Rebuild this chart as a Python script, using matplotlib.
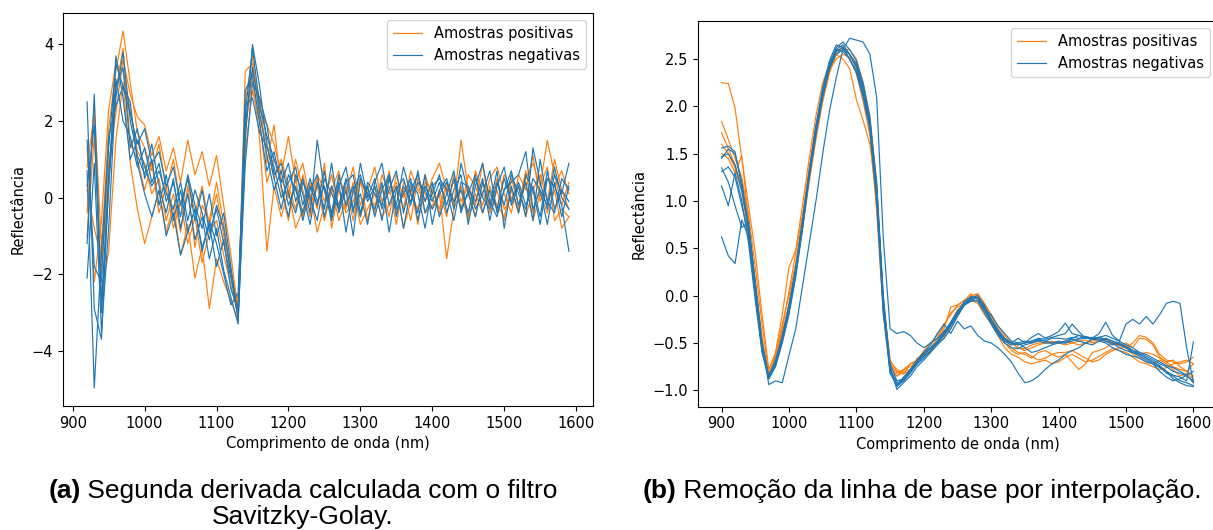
import numpy as np
import matplotlib.pyplot as plt

# wavelength grids (nm)
wl_a = np.arange(920, 1600, 10)   # 2nd derivative panel, 68 points
wl_b = np.arange(900, 1610, 10)   # baseline-removed panel, 71 points

# (a) second derivative, positive samples
deriv_pos = [
    [-0.4, 2.4, -1.3, 1.8, 3.3, 4.35, 3.0, 1.7, 1.3, 0.7,
     1.4, 0.2, 1.0, -0.2, 0.5, -0.4, 0.3, -0.7, 0.1, -1.0,
     -1.9, -2.9, 2.5, 3.7, 2.1, 1.4, 0.5, 1.0, 0.3, -0.3,
     0.6, -0.2, 0.3, -0.6, 0.2, 0.7, -0.3, 0.4, -0.5, 0.2,
     0.8, -0.1, 0.3, -0.7, 0.4, 0.1, -0.3, 0.6, 0.0, -0.4,
     0.3, -0.2, 1.5, 0.2, -0.5, 0.4, 0.1, -0.3, 0.6, 0.2,
     -0.4, 0.5, 0.9, 0.3, 1.5, 0.6, -0.2, 0.4],
    [0.8, 2.2, -2.5, -1.4, 1.5, 3.0, 0.9, -0.3, -1.2, -0.5,
     0.2, -0.9, -0.2, -1.5, -0.7, -2.1, -1.3, -2.9, -1.6, -2.2,
     -2.7, -3.2, 1.8, 3.1, 1.5, -1.4, 0.3, -0.5, 0.2, -0.8,
     -0.3, 0.1, -0.9, -0.2, 0.3, -0.6, -0.1, 0.2, -0.7, -0.3,
     0.1, -0.5, -0.2, 0.3, -0.8, -0.1, 0.4, -0.4, -0.2, 0.1,
     -1.6, -0.3, 0.2, -0.6, 0.1, -0.4, 0.3, -0.2, -0.5, 0.2,
     -0.3, 0.4, -0.6, 0.1, -0.4, 0.2, -0.8, -0.5],
    [-1.0, 1.6, -2.0, 0.9, 2.2, 3.6, 2.7, 2.1, 1.9, 1.1,
     1.6, 0.7, 1.3, 0.4, 1.5, 0.6, 1.2, 0.3, 1.1, -0.2,
     -1.5, -3.0, 3.3, 3.5, 2.3, 1.9, 1.4, 0.6, 1.6, 0.4,
     0.9, -0.1, 0.6, 0.2, -0.4, 0.5, 0.1, 0.8, -0.2, 0.3,
     -0.4, 0.6, 0.1, 0.4, -0.3, 0.7, 0.2, -0.1, 0.5, 0.9,
     0.2, 0.4, -0.3, 0.6, 0.3, -0.2, 0.5, 0.8, 0.1, -0.4,
     0.6, 0.2, 1.1, -0.1, 0.5, 0.3, 0.7, 0.1],
    [0.2, -0.8, -1.6, 0.4, 2.8, 3.9, 1.4, 1.0, 0.2, 0.9,
     -0.4, 0.3, -0.8, -0.1, -1.2, -0.5, -1.7, -0.9, -0.6, -1.5,
     -2.3, -3.1, 2.0, 3.3, 2.6, 0.9, 1.9, 0.2, -0.6, 0.5,
     -0.5, 0.4, -0.3, 0.9, -0.8, 0.2, -0.4, -0.1, 0.5, -0.6,
     0.3, -0.2, 0.7, -0.4, 0.2, -0.6, 0.5, 0.1, -0.3, 0.2,
     -0.5, 0.6, -0.1, 0.3, -0.2, 0.9, -0.4, 0.2, -0.6, 0.5,
     -0.2, 0.7, -0.4, 0.3, 0.8, -0.6, -0.3, -0.5],
    [1.3, -2.2, -0.6, 2.3, 3.5, 3.3, 2.3, 1.2, 0.9, 0.1,
     0.5, -0.6, 0.1, -0.9, 0.3, -1.3, -0.2, -0.6, 0.4, -0.7,
     -2.0, -2.7, 1.2, 2.8, 2.0, 0.4, 1.0, 0.5, 0.0, 1.0,
     0.2, -0.5, 0.5, -0.1, 0.6, -0.3, 0.3, -0.6, 0.4, 0.1,
     -0.2, 0.3, -0.5, 0.6, 0.0, 0.3, -0.7, 0.4, 0.2, -0.3,
     0.4, -0.1, 0.3, -0.5, 0.7, 0.1, -0.2, 0.5, -0.3, 0.0,
     0.3, -0.5, 0.2, 0.6, -0.1, 1.0, 0.2, -0.3],
]

# (a) second derivative, negative samples
deriv_neg = [
    [0.7, -4.97, -1.4, 1.3, 3.5, 2.9, 2.2, 1.4, 1.8, 0.9,
     1.2, 0.3, 0.8, -0.2, 0.5, -0.6, 0.2, -0.9, -0.3, -1.2,
     -2.1, -3.1, 2.2, 3.9, 2.4, 1.6, 1.0, 0.4, 0.9, -0.1,
     0.5, -0.4, 1.5, 0.2, -0.6, 0.3, 0.8, -0.3, 0.1, -0.7,
     0.4, 0.9, -0.2, 0.3, -0.8, 0.2, 0.6, -0.1, 0.4, -0.5,
     0.1, 0.7, -0.4, 0.2, -0.1, 0.5, -0.6, 0.3, 0.8, -0.2,
     0.3, -0.5, 1.3, 0.4, -0.3, 0.6, 0.1, 0.9],
    [2.5, -2.9, -3.7, 0.4, 2.6, 3.8, 2.0, 1.1, 0.6, 1.4,
     0.3, -0.4, 0.5, -0.8, 0.1, -1.1, -0.5, -1.6, -0.8, -1.9,
     -2.6, -3.3, 1.5, 4.0, 2.9, 1.4, 0.5, -0.3, 0.6, 0.2,
     -0.4, 0.3, -0.2, 0.7, -0.5, 0.4, -0.9, 0.2, 0.6, -0.1,
     0.3, -0.6, 0.5, -0.2, 0.8, 0.1, -0.4, 0.6, -0.7, 0.2,
     0.5, -0.3, 0.9, 0.1, -0.5, 0.4, -0.2, 0.7, -0.8, 0.3,
     -0.4, 0.6, 0.2, -0.7, 0.5, 0.3, -0.2, -1.4],
    [-2.1, 0.9, -3.5, -0.8, 2.9, 3.4, 1.3, 1.8, 0.5, 1.0,
     -0.2, 0.6, -0.6, 0.2, -0.9, -0.3, -1.3, -0.7, -1.8, -1.1,
     -2.4, -2.9, 2.8, 3.2, 1.9, 0.7, 1.2, 0.3, -0.5, 0.6,
     0.1, -0.7, 0.4, -0.3, 0.9, -0.4, 0.2, -1.0, 0.5, 0.1,
     -0.3, 0.4, -0.9, 0.2, 0.5, -0.2, 0.7, -0.4, 0.1, 0.6,
     -0.4, 0.2, 0.6, -0.7, 0.3, 0.9, -0.1, -0.5, 0.2, 0.7,
     -0.2, 0.4, -0.6, 1.0, -0.1, -0.4, 0.5, 0.2],
    [-1.2, 2.7, -2.8, 0.6, 3.1, 2.0, 1.6, 0.8, 1.3, 0.4,
     0.9, -0.1, 0.4, -0.5, 0.6, -0.2, -0.8, 0.1, -1.0, -0.4,
     -1.8, -3.2, 0.9, 3.0, 2.6, 1.9, 0.6, 0.9, 0.1, -0.4,
     0.4, 0.0, -0.6, 0.5, 0.1, -0.3, 0.4, 0.6, -0.4, 0.3,
     -0.5, 0.2, 0.6, -0.3, 0.1, 0.5, -0.6, 0.3, -0.1, 0.4,
     -0.2, 0.5, -0.3, 0.1, 0.6, -0.4, 0.2, -0.3, 0.5, -0.1,
     0.4, -0.2, 0.3, -0.5, 0.7, -0.3, 0.2, -0.1],
    [1.5, -1.8, -2.2, 1.6, 2.4, 2.9, 2.5, 0.9, 0.1, -0.5,
     0.2, -1.0, -0.4, -1.5, -0.9, -0.3, -1.4, -0.6, -1.2, -2.0,
     -2.8, -2.5, 1.9, 3.4, 2.2, 1.1, 0.2, 0.7, -0.2, 0.3,
     -0.6, 0.2, 0.6, -0.5, 0.3, -0.2, 0.5, -0.4, 0.9, 0.0,
     0.5, -0.3, 0.2, 0.7, -0.4, 0.4, 0.1, -0.8, 0.3, 0.5,
     0.2, -0.6, 0.4, 0.3, -0.3, 0.1, 0.7, -0.4, 0.2, 0.4,
     0.6, 1.2, -0.3, 0.2, -0.7, 0.4, -0.5, 0.3],
    [0.3, 1.9, -3.0, 0.2, 3.7, 2.6, 1.0, 1.5, 0.8, 0.3,
     0.7, 0.1, -0.3, 0.4, -0.6, 0.2, -0.4, -1.1, -0.2, -0.8,
     -2.0, -3.0, 2.4, 2.6, 1.7, 1.3, 0.8, 0.0, 0.4, 0.8,
     -0.2, 0.5, -0.1, 0.3, -0.4, 0.6, -0.2, 0.3, -0.5, 0.4,
     0.1, -0.2, 0.6, -0.5, 0.3, -0.1, 0.4, 0.2, -0.3, 0.1,
     0.4, -0.1, 0.2, -0.4, 0.5, 0.0, -0.3, 0.4, -0.2, 0.6,
     0.1, -0.3, 0.5, 0.2, -0.2, 0.8, 0.0, -0.3],
]

# (b) baseline removed, positive samples
base_pos = [
    [2.25, 2.24, 1.98, 1.45, 0.95, 0.45, -0.2, -0.78, -0.6, -0.2,
     0.3, 0.48, 0.95, 1.45, 1.9, 2.25, 2.45, 2.58, 2.62, 2.5,
     2.35, 2.05, 1.7, 0.9, -0.2, -0.72, -0.82, -0.78, -0.75, -0.7,
     -0.62, -0.6, -0.48, -0.35, -0.12, -0.1, -0.05, -0.02, 0.0, -0.12,
     -0.25, -0.38, -0.45, -0.55, -0.6, -0.62, -0.66, -0.6, -0.58, -0.62,
     -0.65, -0.62, -0.7, -0.78, -0.72, -0.6, -0.58, -0.55, -0.5, -0.52,
     -0.5, -0.55, -0.45, -0.46, -0.52, -0.65, -0.7, -0.68, -0.75, -0.8, -0.72],
    [1.84, 1.65, 1.45, 1.25, 0.85, 0.3, -0.3, -0.82, -0.65, -0.35,
     0.05, 0.45, 0.85, 1.35, 1.8, 2.15, 2.4, 2.55, 2.5, 2.4,
     2.07, 1.85, 1.6, 1.05, -0.05, -0.68, -0.8, -0.83, -0.72, -0.7,
     -0.6, -0.55, -0.5, -0.4, -0.28, -0.15, -0.1, -0.05, 0.02, -0.08,
     -0.2, -0.32, -0.42, -0.5, -0.55, -0.58, -0.55, -0.52, -0.5, -0.5,
     -0.5, -0.52, -0.5, -0.48, -0.47, -0.5, -0.48, -0.46, -0.5, -0.53,
     -0.52, -0.58, -0.62, -0.6, -0.62, -0.66, -0.7, -0.75, -0.78, -0.8, -0.85],
    [1.72, 1.55, 1.38, 1.15, 0.7, 0.15, -0.45, -0.85, -0.62, -0.3,
     0.0, 0.35, 0.8, 1.3, 1.75, 2.1, 2.38, 2.5, 2.55, 2.52,
     2.45, 2.2, 1.85, 1.15, -0.15, -0.75, -0.85, -0.8, -0.78, -0.68,
     -0.58, -0.5, -0.42, -0.3, -0.2, -0.1, -0.05, 0.02, -0.05, -0.15,
     -0.28, -0.4, -0.5, -0.58, -0.62, -0.6, -0.64, -0.68, -0.66, -0.62,
     -0.6, -0.6, -0.58, -0.62, -0.66, -0.7, -0.68, -0.62, -0.58, -0.55,
     -0.55, -0.62, -0.66, -0.7, -0.72, -0.68, -0.72, -0.78, -0.85, -0.82, -0.88],
    [1.6, 1.5, 1.35, 1.1, 0.65, 0.05, -0.5, -0.83, -0.66, -0.4,
     -0.08, 0.3, 0.75, 1.25, 1.7, 2.1, 2.4, 2.55, 2.65, 2.55,
     2.4, 2.15, 1.8, 1.1, -0.1, -0.7, -0.78, -0.82, -0.8, -0.66,
     -0.62, -0.55, -0.45, -0.32, -0.18, -0.12, -0.08, 0.0, 0.02, -0.1,
     -0.22, -0.35, -0.45, -0.5, -0.55, -0.56, -0.52, -0.5, -0.5, -0.48,
     -0.5, -0.48, -0.5, -0.52, -0.5, -0.48, -0.46, -0.48, -0.5, -0.52,
     -0.55, -0.5, -0.42, -0.44, -0.5, -0.62, -0.68, -0.7, -0.72, -0.7, -0.65],
    [1.5, 1.45, 1.3, 1.48, 0.8, 0.1, -0.45, -0.86, -0.7, -0.42,
     -0.1, 0.3, 0.7, 1.2, 1.65, 2.05, 2.35, 2.55, 2.6, 2.6,
     2.5, 2.25, 1.9, 1.2, -0.1, -0.75, -0.85, -0.78, -0.72, -0.68,
     -0.62, -0.6, -0.5, -0.45, -0.35, -0.2, -0.1, -0.05, -0.08, -0.2,
     -0.3, -0.42, -0.55, -0.62, -0.65, -0.7, -0.72, -0.7, -0.68, -0.72,
     -0.7, -0.65, -0.62, -0.66, -0.7, -0.68, -0.64, -0.6, -0.56, -0.58,
     -0.6, -0.65, -0.7, -0.72, -0.75, -0.78, -0.76, -0.72, -0.7, -0.68, -0.72],
]

# (b) baseline removed, negative samples
base_neg = [
    [1.45, 1.55, 1.5, 1.2, 0.75, 0.15, -0.5, -0.94, -0.9, -0.92,
     -0.63, -0.35, 0.1, 0.55, 1.0, 1.5, 1.95, 2.3, 2.6, 2.72,
     2.7, 2.68, 2.55, 2.1, 0.6, -0.35, -0.4, -0.38, -0.42, -0.5,
     -0.55, -0.5, -0.45, -0.38, -0.3, -0.2, -0.1, -0.05, -0.02, -0.15,
     -0.2, -0.32, -0.4, -0.48, -0.5, -0.55, -0.6, -0.58, -0.55, -0.52,
     -0.5, -0.48, -0.45, -0.42, -0.44, -0.46, -0.47, -0.48, -0.5, -0.55,
     -0.58, -0.6, -0.62, -0.66, -0.7, -0.75, -0.82, -0.85, -0.9, -0.92, -0.95],
    [1.56, 1.58, 1.52, 1.15, 0.7, 0.05, -0.55, -0.88, -0.75, -0.5,
     -0.2, 0.2, 0.7, 1.25, 1.7, 2.1, 2.4, 2.6, 2.65, 2.55,
     2.45, 2.2, 1.85, 1.2, 0.0, -0.75, -0.99, -0.92, -0.85, -0.75,
     -0.68, -0.6, -0.52, -0.45, -0.35, -0.22, -0.1, -0.03, -0.02, -0.12,
     -0.25, -0.38, -0.48, -0.52, -0.5, -0.48, -0.5, -0.46, -0.48, -0.5,
     -0.5, -0.5, -0.48, -0.46, -0.45, -0.44, -0.46, -0.45, -0.48, -0.52,
     -0.55, -0.58, -0.6, -0.64, -0.68, -0.72, -0.75, -0.8, -0.82, -0.85, -0.9],
    [0.62, 0.42, 0.34, 0.8, 0.62, 0.0, -0.55, -0.86, -0.72, -0.48,
     -0.18, 0.22, 0.72, 1.25, 1.72, 2.1, 2.4, 2.55, 2.6, 2.55,
     2.42, 2.15, 1.8, 1.12, -0.08, -0.72, -0.9, -0.88, -0.8, -0.7,
     -0.62, -0.56, -0.5, -0.42, -0.3, -0.18, -0.08, -0.02, 0.0, -0.1,
     -0.25, -0.36, -0.45, -0.5, -0.52, -0.5, -0.48, -0.47, -0.48, -0.45,
     -0.45, -0.46, -0.44, -0.45, -0.43, -0.45, -0.44, -0.46, -0.48, -0.5,
     -0.54, -0.58, -0.62, -0.66, -0.7, -0.74, -0.8, -0.84, -0.86, -0.9, -0.49],
    [1.16, 0.95, 1.3, 1.0, 0.55, -0.05, -0.6, -0.88, -0.72, -0.45,
     -0.15, 0.25, 0.75, 1.3, 1.78, 2.15, 2.45, 2.62, 2.68, 2.6,
     2.48, 2.25, 1.88, 1.15, -0.05, -0.8, -0.95, -0.88, -0.78, -0.7,
     -0.6, -0.52, -0.4, -0.3, -0.4, -0.27, -0.35, -0.32, -0.42, -0.48,
     -0.5, -0.55, -0.62, -0.7, -0.82, -0.92, -0.9, -0.85, -0.78, -0.72,
     -0.68, -0.62, -0.58, -0.55, -0.5, -0.52, -0.48, -0.5, -0.55, -0.58,
     -0.62, -0.64, -0.66, -0.7, -0.72, -0.76, -0.8, -0.88, -0.92, -0.95, -0.96],
    [1.31, 1.36, 1.25, 0.95, 0.65, 0.0, -0.58, -0.87, -0.74, -0.48,
     -0.16, 0.25, 0.75, 1.28, 1.75, 2.15, 2.42, 2.58, 2.62, 2.55,
     2.42, 2.2, 1.82, 1.1, -0.12, -0.78, -0.92, -0.9, -0.82, -0.72,
     -0.64, -0.58, -0.5, -0.4, -0.3, -0.18, -0.06, -0.01, -0.02, -0.14,
     -0.26, -0.38, -0.46, -0.5, -0.52, -0.5, -0.48, -0.45, -0.46, -0.44,
     -0.42, -0.4, -0.3, -0.38, -0.45, -0.46, -0.44, -0.42, -0.45, -0.48,
     -0.3, -0.25, -0.3, -0.22, -0.3, -0.2, -0.08, -0.06, -0.08, -0.55, -0.92],
    [1.47, 1.5, 1.38, 1.1, 0.72, 0.08, -0.5, -0.86, -0.7, -0.46,
     -0.15, 0.25, 0.75, 1.28, 1.75, 2.15, 2.42, 2.6, 2.58, 2.5,
     2.38, 2.12, 1.78, 1.05, -0.15, -0.8, -0.96, -0.9, -0.8, -0.72,
     -0.66, -0.58, -0.5, -0.42, -0.32, -0.2, -0.1, -0.06, -0.05, -0.15,
     -0.28, -0.4, -0.48, -0.5, -0.45, -0.5, -0.44, -0.4, -0.45, -0.42,
     -0.38, -0.29, -0.4, -0.42, -0.44, -0.45, -0.4, -0.28, -0.42, -0.48,
     -0.52, -0.55, -0.6, -0.62, -0.66, -0.7, -0.74, -0.76, -0.8, -0.84, -0.92],
    [1.35, 1.2, 0.95, 0.72, 0.78, 0.12, -0.52, -0.85, -0.68, -0.42,
     -0.1, 0.3, 0.8, 1.32, 1.8, 2.2, 2.48, 2.65, 2.62, 2.5,
     2.35, 2.1, 1.75, 1.0, -0.2, -0.82, -0.94, -0.86, -0.78, -0.68,
     -0.6, -0.55, -0.48, -0.38, -0.28, -0.16, -0.08, -0.04, -0.06, -0.18,
     -0.3, -0.42, -0.5, -0.55, -0.56, -0.52, -0.5, -0.48, -0.5, -0.5,
     -0.48, -0.5, -0.46, -0.48, -0.5, -0.46, -0.44, -0.48, -0.52, -0.5,
     -0.55, -0.6, -0.64, -0.68, -0.72, -0.8, -0.86, -0.9, -0.88, -0.84, -0.8],
]

orange = '#ff7f0e'
blue = '#1f77b4'
fs = 10.5

fig = plt.figure(figsize=(12.13, 5.30), dpi=100)
W, H = 1213, 530

# left panel (a)
ax1 = fig.add_axes([63 / W, 124 / H, 530 / W, 393 / H])
for i, y in enumerate(deriv_pos):
    ax1.plot(wl_a, y, color=orange, lw=0.85, label='Amostras positivas' if i == 0 else None)
for i, y in enumerate(deriv_neg):
    ax1.plot(wl_a, y, color=blue, lw=0.85, label='Amostras negativas' if i == 0 else None)
ax1.set_xlim(886.5, 1623.5)
ax1.set_ylim(-5.44, 4.82)
ax1.set_xticks(range(900, 1700, 100))
ax1.set_yticks([-4, -2, 0, 2, 4])
ax1.set_xlabel('Comprimento de onda (nm)', fontsize=fs)
ax1.set_ylabel('Reflectância', fontsize=fs)
ax1.tick_params(labelsize=fs)
ax1.legend(loc='upper right', fontsize=fs)

# right panel (b) - goes a bit past the right edge, like the original crop
ax2 = fig.add_axes([698 / W, 123.3 / H, 519 / W, 386 / H])
for i, y in enumerate(base_pos):
    ax2.plot(wl_b, y, color=orange, lw=0.85, label='Amostras positivas' if i == 0 else None)
for i, y in enumerate(base_neg):
    ax2.plot(wl_b, y, color=blue, lw=0.85, label='Amostras negativas' if i == 0 else None)
ax2.set_xlim(865, 1635)
ax2.set_ylim(-1.173, 2.905)
ax2.set_xticks(range(900, 1700, 100))
ax2.set_yticks([-1.0, -0.5, 0.0, 0.5, 1.0, 1.5, 2.0, 2.5])
ax2.set_xlabel('Comprimento de onda (nm)', fontsize=fs)
ax2.set_ylabel('Reflectância', fontsize=fs)
ax2.tick_params(labelsize=fs)
ax2.legend(loc='upper right', fontsize=fs)


# captions: bold "(a)" / "(b)" followed by normal text, centred as one line
def caption(xc, yb, bold, rest, size=19):
    t1 = fig.text(0, yb / H, bold, fontsize=size, weight='bold',
                  family='Liberation Sans', va='baseline')
    t2 = fig.text(0, yb / H, rest, fontsize=size,
                  family='Liberation Sans', va='baseline')
    r = fig.canvas.get_renderer()
    w1 = t1.get_window_extent(r).width
    w2 = t2.get_window_extent(r).width
    x0 = xc - (w1 + w2) / 2
    t1.set_x(x0 / W)
    t2.set_x((x0 + w1) / W)


caption(303, 530 - 498, '(a)', ' Segunda derivada calculada com o filtro')
fig.text(303 / W, (530 - 524) / H, 'Savitzky-Golay.', fontsize=19,
         family='Liberation Sans', va='baseline', ha='center')
caption(922, 530 - 498, '(b)', ' Remoção da linha de base por interpolação.')

fig.savefig('out.png', dpi=100)
